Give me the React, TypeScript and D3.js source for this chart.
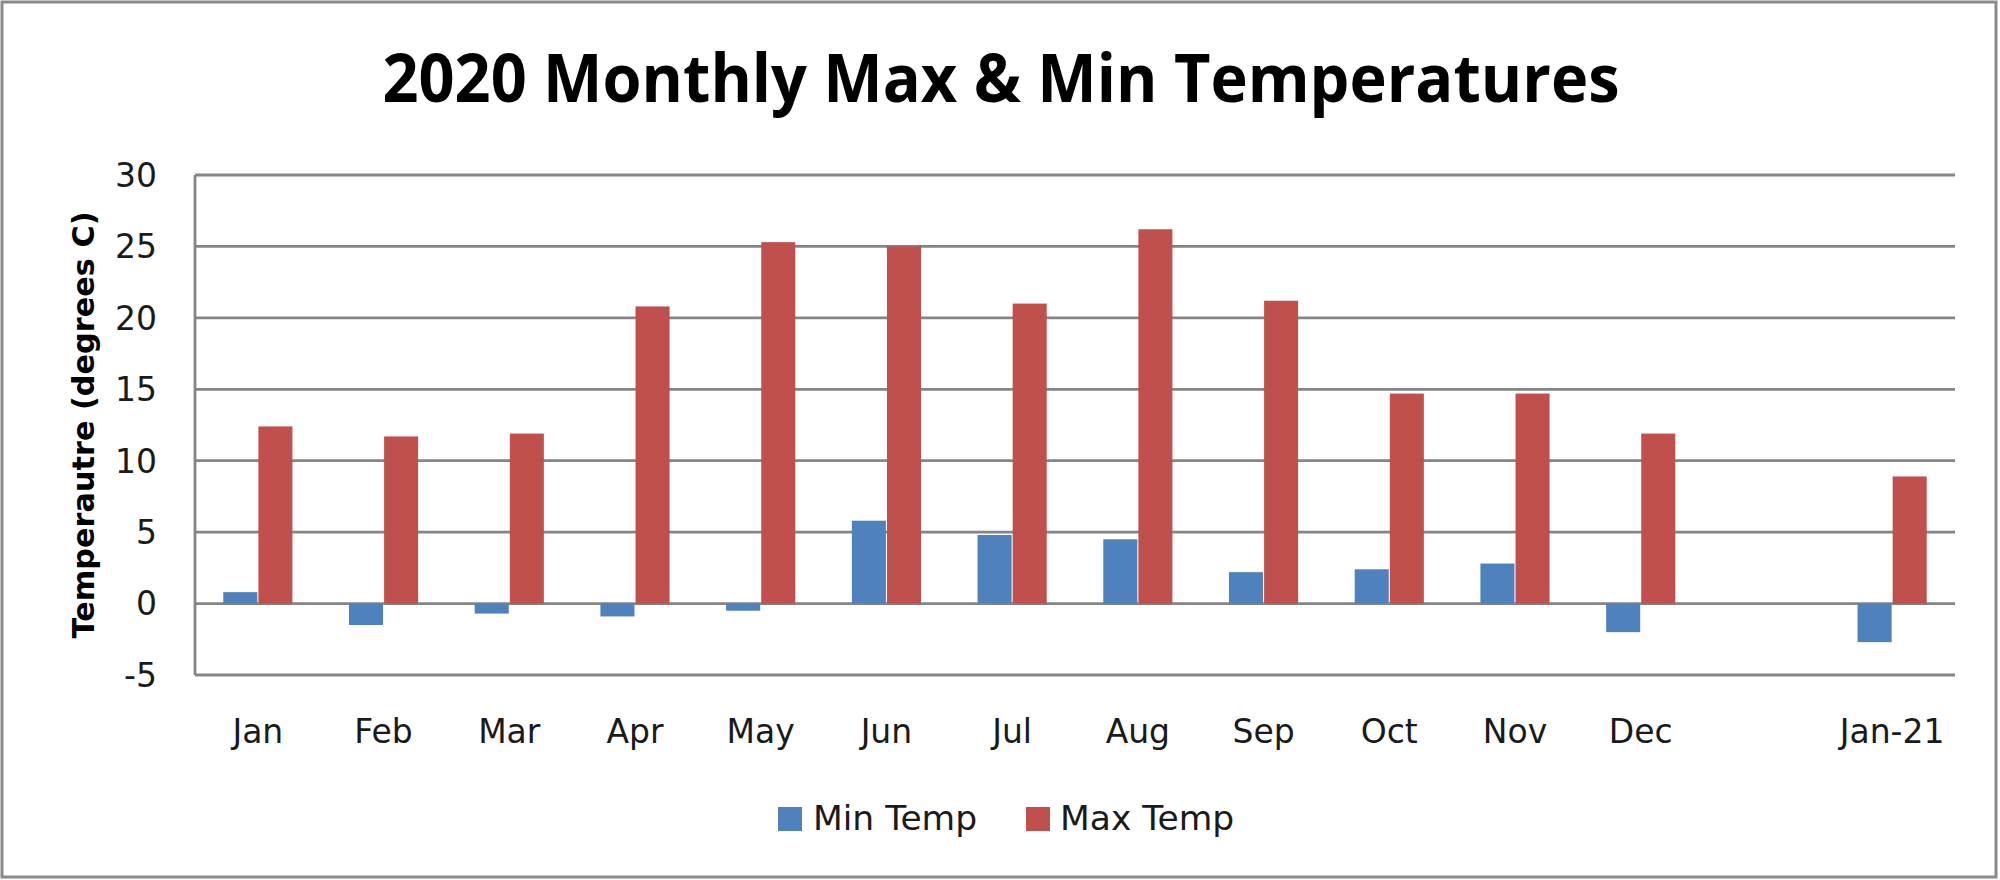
import React from "react";
import * as d3 from "d3";

const categories = ["Jan", "Feb", "Mar", "Apr", "May", "Jun", "Jul", "Aug", "Sep", "Oct", "Nov", "Dec", "", "Jan-21"];
const minTemp: (number | null)[] = [0.8, -1.5, -0.7, -0.9, -0.5, 5.8, 4.8, 4.5, 2.2, 2.4, 2.8, -2.0, null, -2.7];
const maxTemp: (number | null)[] = [12.4, 11.7, 11.9, 20.8, 25.3, 25.0, 21.0, 26.2, 21.2, 14.7, 14.7, 11.9, null, 8.9];
const yTicks = [-5, 0, 5, 10, 15, 20, 25, 30];
const seriesNames = ["Min Temp", "Max Temp"];
const seriesColors = ["#4F81BD", "#C0504D"];

const W = 2000;
const H = 880;
const left = 195;
const right = 1955;
const top = 175;
const bottom = 675;

export default function App() {
  const x0 = d3.scaleBand<string>().domain(categories.map((c, i) => `${i}`)).range([left, right]).paddingInner(0.45).paddingOuter(0.225);
  const x1 = d3.scaleBand<string>().domain(seriesNames).range([0, x0.bandwidth()]).paddingInner(0.03);
  const y = d3.scaleLinear().domain([-5, 30]).range([bottom, top]);
  const series = [minTemp, maxTemp];
  const gridColor = "#858585";
  const labelFont = "'DejaVu Sans', Verdana, sans-serif";

  return (
    <svg width={W} height={H} style={{ position: "absolute", left: 0, top: 0, background: "#fff" }}>
      <rect x={0} y={0} width={W} height={H} fill="#fff" />
      <rect x={2} y={2} width={1994} height={875} fill="none" stroke="#8a8a8a" strokeWidth={3} />
      <text x={1001} y={102} textAnchor="middle" fontFamily="'Open Sans', sans-serif" fontWeight="bold" fontSize={66} fill="#000" textLength={1237} lengthAdjust="spacingAndGlyphs">
        2020 Monthly Max &amp; Min Temperatures
      </text>
      {yTicks.map((t) => (
        <g key={t}>
          <line x1={left} x2={right} y1={y(t)} y2={y(t)} stroke={gridColor} strokeWidth={2.8} />
          <text x={157} y={y(t)} dy="0.36em" textAnchor="end" fontFamily={labelFont} fontSize={33} fill="#1a1a1a">
            {t}
          </text>
        </g>
      ))}
      <line x1={left} x2={left} y1={top} y2={bottom} stroke={gridColor} strokeWidth={2.8} />
      {series.map((vals, si) => (
        <g key={si} fill={seriesColors[si]}>
          {vals.map((v, i) =>
            v === null ? null : (
              <rect
                key={i}
                x={(x0(`${i}`) as number) + (x1(seriesNames[si]) as number)}
                width={x1.bandwidth()}
                y={y(Math.max(0, v))}
                height={Math.abs(y(v) - y(0))}
              />
            )
          )}
        </g>
      ))}
      {categories.map((c, i) => (
        <text key={i} x={(x0(`${i}`) as number) + x0.bandwidth() / 2} y={743} textAnchor="middle" fontFamily={labelFont} fontSize={33} fill="#1a1a1a">
          {c}
        </text>
      ))}
      <text transform="translate(94,425) rotate(-90)" textAnchor="middle" fontFamily={labelFont} fontWeight="bold" fontSize={30} fill="#000" textLength={427} lengthAdjust="spacingAndGlyphs">
        Temperautre (degrees C)
      </text>
      <g>
        <rect x={778} y={807} width={24} height={24} fill={seriesColors[0]} />
        <text x={813} y={830} fontFamily={labelFont} fontSize={34.5} fill="#1a1a1a">{seriesNames[0]}</text>
        <rect x={1026} y={807} width={24} height={24} fill={seriesColors[1]} />
        <text x={1060} y={830} fontFamily={labelFont} fontSize={34.5} fill="#1a1a1a">{seriesNames[1]}</text>
      </g>
    </svg>
  );
}
